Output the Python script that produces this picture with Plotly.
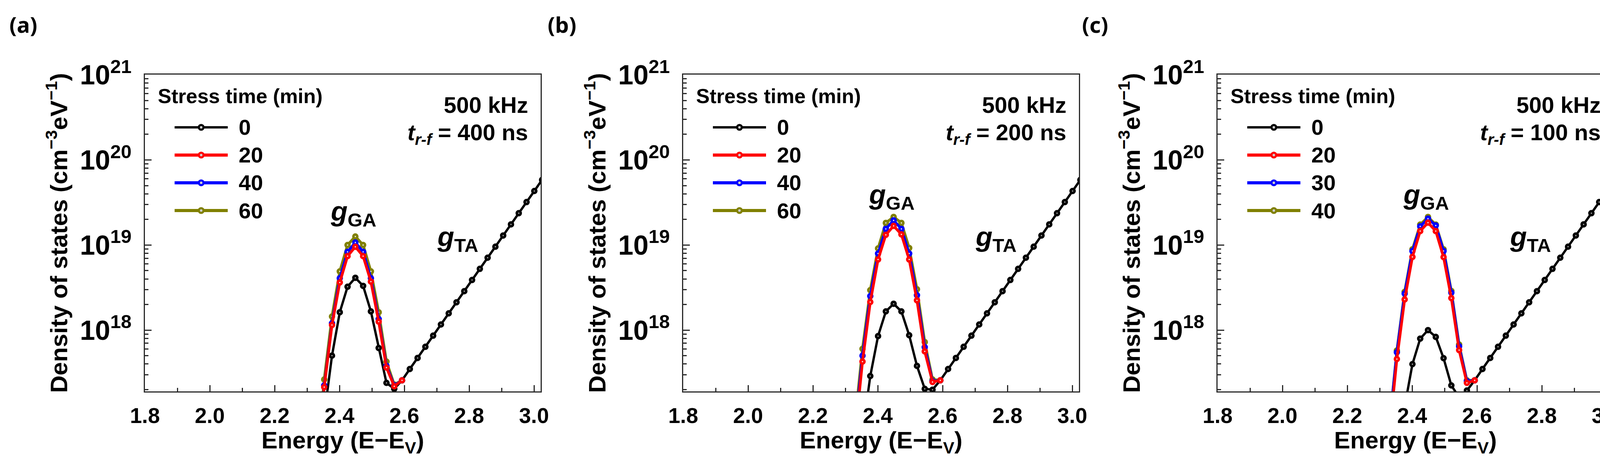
import numpy as np
import plotly.graph_objects as go
from plotly.subplots import make_subplots

W, H = 4159, 1170

# energy (eV) of the points around the acceptor-like gaussian peak
energy_peak = [2.305, 2.329, 2.353, 2.377, 2.401, 2.425, 2.449, 2.473, 2.497, 2.521, 2.545, 2.569, 2.593]
# energy (eV) of the tail points (only the 0 min curve is visible there)
energy_tail = [2.617, 2.641, 2.665, 2.689, 2.713, 2.737, 2.761, 2.785, 2.809, 2.833,
               2.857, 2.881, 2.905, 2.929, 2.953, 2.977, 3.001, 3.025]

# log10 of the DOS (cm^-3 eV^-1)
tail_log = [17.543, 17.673, 17.804, 17.935, 18.066, 18.197, 18.327, 18.458, 18.589,
            18.720, 18.851, 18.981, 19.112, 19.243, 19.374, 19.505, 19.635, 19.766]

a_0 = [15.0, 16.1, 17.0, 17.70, 18.21, 18.51, 18.615, 18.52, 18.22, 17.79, 17.38, 17.31, 17.41]
a_20 = [15.2, 16.38, 17.33, 18.06, 18.56, 18.87, 18.98, 18.87, 18.57, 18.10, 17.56, 17.34, 17.41]
a_40 = [15.25, 16.40, 17.35, 18.08, 18.61, 18.92, 19.03, 18.92, 18.61, 18.13, 17.58, 17.35, 17.41]
a_60 = [15.3, 16.47, 17.42, 18.16, 18.69, 19.0, 19.10, 19.0, 18.69, 18.21, 17.63, 17.36, 17.41]

b_0 = [14.9, 15.94, 16.79, 17.46, 17.93, 18.22, 18.31, 18.22, 17.94, 17.58, 17.31, 17.30, 17.41]
b_20 = [15.6, 16.73, 17.63, 18.33, 18.83, 19.12, 19.225, 19.125, 18.83, 18.35, 17.75, 17.39, 17.41]
b_40 = [15.7, 16.8, 17.70, 18.40, 18.90, 19.19, 19.29, 19.19, 18.90, 18.41, 17.80, 17.40, 17.41]
b_60 = [15.8, 16.9, 17.78, 18.47, 18.96, 19.26, 19.33, 19.26, 18.965, 18.48, 17.86, 17.42, 17.41]

c_0 = [14.4, 15.5, 16.4, 17.1, 17.6, 17.9, 18.0, 17.92, 17.67, 17.35, 17.21, 17.29, 17.41]
c_20 = [15.6, 16.75, 17.66, 18.36, 18.86, 19.164, 19.263, 19.164, 18.858, 18.376, 17.765, 17.38, 17.41]
c_30 = [15.7, 16.83, 17.74, 18.43, 18.93, 19.22, 19.31, 19.23, 18.93, 18.44, 17.81, 17.40, 17.41]
c_40 = [15.7, 16.85, 17.76, 18.45, 18.95, 19.24, 19.33, 19.24, 18.95, 18.46, 17.83, 17.41, 17.41]

panels = [
    dict(tag="(a)", trf="400", labels=["0", "20", "40", "60"], data=[a_0, a_20, a_40, a_60], gga_y=355),
    dict(tag="(b)", trf="200", labels=["0", "20", "40", "60"], data=[b_0, b_20, b_40, b_60], gga_y=312),
    dict(tag="(c)", trf="100", labels=["0", "20", "30", "40"], data=[c_0, c_20, c_30, c_40], gga_y=312),
]
colors = ["#000000", "#ff0000", "#0000ff", "#808000"]

# pixel layout of the three axes boxes
AX_LEFT = [371, 1749, 3117]
AX_W, AX_TOP, AX_BOT = 1013, 191, 1002
AX_H = AX_BOT - AX_TOP

FONT = "Liberation Sans"
AXIS_COL = "#2a2a2a"

fig = make_subplots(rows=1, cols=3)

for i, p in enumerate(panels):
    n = i + 1
    xa = "x" if n == 1 else "x%d" % n
    ya = "y" if n == 1 else "y%d" % n

    # 0 min curve (gaussian + tail), drawn first
    fig.add_trace(go.Scatter(
        x=energy_peak + energy_tail,
        y=10 ** np.array(p["data"][0] + tail_log),
        mode="lines+markers", name=p["labels"][0], showlegend=False,
        line=dict(color=colors[0], width=6),
        marker=dict(symbol="circle", size=10, color="#a8a8a8", line=dict(color=colors[0], width=6.5)),
    ), row=1, col=n)
    # stressed curves, last one at the bottom
    for k in [3, 2, 1]:
        fig.add_trace(go.Scatter(
            x=energy_peak, y=10 ** np.array(p["data"][k]),
            mode="lines+markers", name=p["labels"][k], showlegend=False,
            line=dict(color=colors[k], width=7),
            marker=dict(symbol="circle", size=10, color="#eeeeee", line=dict(color=colors[k], width=6.5)),
        ), row=1, col=n)

    x0 = AX_LEFT[i] / W
    fig.update_xaxes(
        domain=[x0, (AX_LEFT[i] + AX_W) / W], range=[1.8, 1.8 + AX_W / 830.0],
        tick0=1.8, dtick=0.2, tickformat=".1f", ticks="inside", ticklen=16, tickwidth=3,
        tickcolor=AXIS_COL, showline=True, linecolor=AXIS_COL, linewidth=3, mirror=True,
        showgrid=False, zeroline=False, automargin=False, ticklabelstandoff=12,
        minor=dict(dtick=0.1, ticks="inside", ticklen=9, tickwidth=3, tickcolor=AXIS_COL, showgrid=False),
        tickfont=dict(family=FONT, size=55, color="#000", weight="bold"),
        title=dict(text="Energy (E\u2212E<sub>V</sub>)", standoff=3,
                   font=dict(family=FONT, size=62, color="#000", weight="bold")),
        row=1, col=n)
    fig.update_yaxes(
        type="log", domain=[1 - AX_BOT / H, 1 - AX_TOP / H], range=[17.28, 21.003],
        dtick=1, exponentformat="power", ticks="inside", ticklen=17, tickwidth=3,
        tickcolor=AXIS_COL, showline=True, linecolor=AXIS_COL, linewidth=3, mirror=True,
        showgrid=False, zeroline=False, automargin=False, ticklabelstandoff=20,
        minor=dict(dtick="D1", ticks="inside", ticklen=9, tickwidth=3, tickcolor=AXIS_COL, showgrid=False),
        tickfont=dict(family=FONT, size=56, color="#000", weight="bold"),
        title=dict(text="Density of states (cm<sup>\u22123</sup>eV<sup>\u22121</sup>)", standoff=12,
                   font=dict(family=FONT, size=62, color="#000", weight="bold")),
        row=1, col=n)

    xd, yd = xa + " domain", ya + " domain"

    def fx(px):
        return px / AX_W

    def fy(py):
        return 1 - py / AX_H

    # hand-drawn legend with long line samples
    fig.add_annotation(x=fx(31), y=fy(55), xref=xd, yref=yd, xanchor="left", yanchor="middle",
                       text="Stress time (min)", showarrow=False,
                       font=dict(family=FONT, size=52, color="#000", weight="bold"))
    for k in range(4):
        ry = 135 + 71 * k
        fig.add_shape(type="line", xref=xd, yref=yd, x0=fx(76), x1=fx(212), y0=fy(ry), y1=fy(ry),
                      line=dict(color=colors[k], width=6 if k == 0 else 8))
        fig.add_shape(type="circle", xref=xd, yref=yd, x0=fx(138), x1=fx(150), y0=fy(ry + 6), y1=fy(ry - 6),
                      fillcolor="#cccccc", line=dict(color=colors[k], width=5.5))
        fig.add_annotation(x=fx(238), y=fy(ry), xref=xd, yref=yd, xanchor="left", yanchor="middle",
                           text=p["labels"][k], showarrow=False,
                           font=dict(family=FONT, size=56, color="#000", weight="bold"))

    fig.add_annotation(x=fx(AX_W - 30), y=fy(77), xref=xd, yref=yd, xanchor="right", yanchor="middle",
                       text="500 kHz", showarrow=False,
                       font=dict(family=FONT, size=58, color="#000", weight="bold"))
    fig.add_annotation(x=fx(AX_W - 30), y=fy(152), xref=xd, yref=yd, xanchor="right", yanchor="middle",
                       text="<i>t</i><sub><i>r-f</i></sub> = %s ns" % p["trf"], showarrow=False,
                       font=dict(family=FONT, size=58, color="#000", weight="bold"))
    fig.add_annotation(x=fx(533), y=fy(p["gga_y"]), xref=xd, yref=yd, xanchor="center", yanchor="middle",
                       text="<i>g</i><sub>GA</sub>", showarrow=False,
                       font=dict(family=FONT, size=70, color="#000", weight="bold"))
    fig.add_annotation(x=fx(800), y=fy(420), xref=xd, yref=yd, xanchor="center", yanchor="middle",
                       text="<i>g</i><sub>TA</sub>", showarrow=False,
                       font=dict(family=FONT, size=70, color="#000", weight="bold"))

    # panel tag
    fig.add_annotation(x=(22 + AX_LEFT[i] - 371) / W, y=1 - 62 / H, xref="paper", yref="paper",
                       xanchor="left", yanchor="middle", text=p["tag"], showarrow=False,
                       font=dict(family="Noto Sans", size=56, color="#000", weight="bold"))

fig.update_layout(
    width=W, height=H, margin=dict(l=0, r=0, t=0, b=0),
    paper_bgcolor="white", plot_bgcolor="white", showlegend=False,
    font=dict(family=FONT, color="#000"),
)

# drop the default page margin so the 4159 px figure fits the window
fig.write_html("out.html", config={"displayModeBar": False},
               post_script="document.body.style.margin='0';document.body.style.overflow='hidden';")
